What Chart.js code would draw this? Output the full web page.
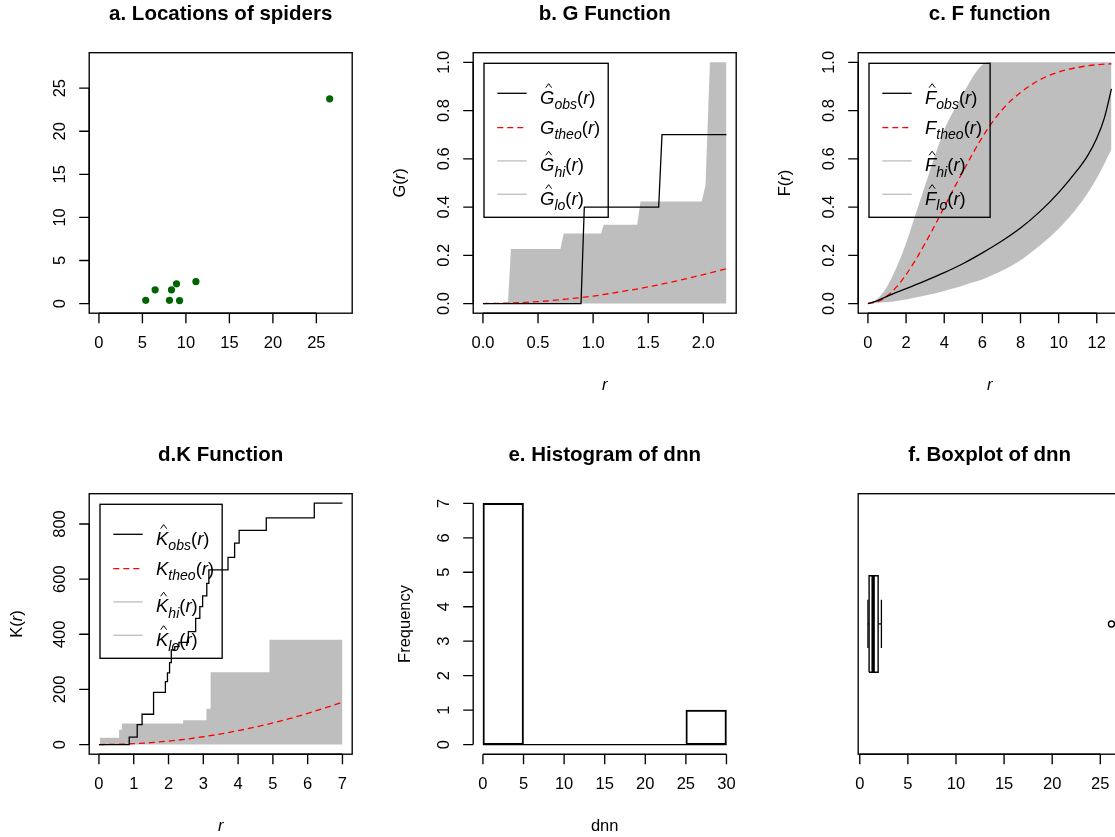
<!DOCTYPE html>
<html>
<head>
<meta charset="utf-8">
<title>Spider point pattern summaries</title>
<script src="https://cdn.jsdelivr.net/npm/chart.js@4.4.1/dist/chart.umd.min.js"></script>
<style>
  html, body { margin:0; padding:0; background:#fff; width:1115px; height:837px; overflow:hidden; }
  canvas { position:absolute; }
</style>
</head>
<body>
<canvas id="cA" width="385" height="442" style="left:0px;top:0px"></canvas>
<canvas id="cB" width="385" height="442" style="left:384.33px;top:0px"></canvas>
<canvas id="cC" width="385" height="442" style="left:768.67px;top:0px"></canvas>
<canvas id="cD" width="385" height="442" style="left:0px;top:441.33px"></canvas>
<canvas id="cE" width="385" height="442" style="left:384.33px;top:441.33px"></canvas>
<canvas id="cF" width="385" height="442" style="left:768.67px;top:441.33px"></canvas>
<script>
// ---- a. spider locations ----
const spiderX = [5.38, 6.46, 8.11, 8.34, 8.92, 9.27, 11.15, 26.53];
const spiderY = [0.38, 1.59, 0.38, 1.59, 2.29, 0.35, 2.55, 23.76];

// ---- b. nearest-neighbour distribution G(r) ----
const gObsR  = [0, 0.89, 0.92, 1.595, 1.625, 2.21];
const gObsV  = [0, 0, 0.40, 0.40, 0.70, 0.70];
const gTheoR = [0, 0.25, 0.5, 0.75, 1, 1.25, 1.5, 1.75, 2, 2.21];
const gTheoV = [0, 0.002, 0.008, 0.018, 0.031, 0.049, 0.069, 0.093, 0.120, 0.144];
const gHiR   = [0, 0.227, 0.254, 0.703, 0.733, 1.072, 1.096, 1.40, 1.43, 1.985, 2.02, 2.06, 2.21];
const gHiV   = [0, 0, 0.226, 0.226, 0.290, 0.290, 0.327, 0.327, 0.423, 0.423, 0.49, 1.0, 1.0];

// ---- c. empty-space function F(r) ----
const fObsR  = [0, 0.5, 1, 2, 3, 4, 5, 6, 7, 8, 9, 10, 11, 11.5, 12, 12.4, 12.77];
const fObsV  = [0, 0.012, 0.03, 0.062, 0.094, 0.128, 0.166, 0.21, 0.258, 0.313, 0.38, 0.46, 0.555, 0.61, 0.685, 0.77, 0.89];
const fTheoR = [0, 0.5, 1, 1.5, 2, 2.5, 3, 3.5, 4, 4.5, 5, 6, 7, 8, 9, 10, 11, 12, 12.77];
const fTheoV = [0, 0.008, 0.031, 0.069, 0.12, 0.181, 0.25, 0.323, 0.40, 0.476, 0.55, 0.69, 0.80, 0.875, 0.927, 0.96, 0.979, 0.99, 0.994];
const fEnvR  = [0, 0.5, 1, 1.5, 2, 2.5, 3, 3.5, 4, 4.5, 5, 5.5, 6, 6.5, 7, 8, 9, 10, 11, 12, 12.77];
const fHiV   = [0, 0.02, 0.07, 0.15, 0.25, 0.37, 0.49, 0.61, 0.72, 0.80, 0.87, 0.94, 0.99, 1, 1, 1, 1, 1, 1, 1, 1];
const fLoV   = [0, 0.003, 0.006, 0.011, 0.017, 0.025, 0.033, 0.042, 0.052, 0.063, 0.075, 0.088, 0.10, 0.117, 0.135, 0.18, 0.24, 0.31, 0.40, 0.52, 0.64];

// ---- d. Ripley's K(r) ----
const kObsR  = [0, 0.87, 1.10, 1.24, 1.57, 1.91, 1.97, 2.03, 2.08, 2.18, 2.30, 2.57, 2.78, 2.90, 2.98, 3.10, 3.16, 3.71, 3.90, 4.03, 4.81, 6.19, 7.0];
const kObsV  = [0, 27, 72, 110, 189, 228, 260, 297, 343, 355, 371, 410, 458, 500, 539, 585, 634, 679, 731, 777, 822, 876, 876];
const kTheoR = [0, 0.5, 1, 1.5, 2, 2.5, 3, 3.5, 4, 4.5, 5, 5.5, 6, 6.5, 7];
const kTheoV = [0, 0.8, 3.1, 7.1, 12.6, 19.6, 28.3, 38.5, 50.3, 63.6, 78.5, 95.0, 113.1, 132.7, 153.9];
const kHiR   = [0, 0.03, 0.58, 0.66, 2.42, 3.09, 3.21, 4.90, 7.0];
const kHiV   = [0, 25, 54, 76, 88, 130, 262, 380, 380];

// ---- e. histogram of nearest-neighbour distances ----
const dnnBreaks = [0, 5, 10, 15, 20, 25, 30];
const dnnCounts = [7, 0, 0, 0, 0, 1];

// ---- f. boxplot of nearest-neighbour distances ----
const dnnFive = [0.85, 0.97, 1.39, 1.91, 2.25];   // lower whisker, Q1, median, Q3, upper whisker
const dnnOutliers = [26.16];

// ---- tick marks ----
const ticksA = [0, 5, 10, 15, 20, 25];
const ticksGx = [0, 0.5, 1, 1.5, 2];
const ticksUnit = [0, 0.2, 0.4, 0.6, 0.8, 1];
const ticksFx = [0, 2, 4, 6, 8, 10, 12];
const ticksKx = [0, 1, 2, 3, 4, 5, 6, 7];
const ticksKy = [0, 200, 400, 600, 800];
const ticksHx = [0, 5, 10, 15, 20, 25, 30];
const ticksHy = [0, 1, 2, 3, 4, 5, 6, 7];
const ticksBx = [0, 5, 10, 15, 20, 25];

const FAM = '"Liberation Sans", Arial, Helvetica, sans-serif';
const GREY = '#BEBEBE';
const TICK = 10;
const FRAME_LW = 1.35;

const pts = (xs, ys) => xs.map((x, i) => ({ x, y: ys[i] }));

function partFont(p, S) {
  const size = p.sub ? S * 0.76 : S;
  return (p.it ? 'italic ' : '') + size.toFixed(2) + 'px ' + FAM;
}
function mathWidth(ctx, parts, S) {
  let w = 0;
  for (const p of parts) { ctx.font = partFont(p, S); w += ctx.measureText(p.t).width; }
  return w;
}
function drawMath(ctx, parts, x, base, S) {
  let cx = x;
  ctx.textAlign = 'left';
  ctx.textBaseline = 'alphabetic';
  for (const p of parts) {
    ctx.font = partFont(p, S);
    const w = ctx.measureText(p.t).width;
    ctx.fillText(p.t, cx, base + (p.sub ? S * 0.3 : 0));
    if (p.hat) {
      const hx = cx + w * 0.5 + S * 0.08, ht = base - S * 1.08;
      ctx.beginPath();
      ctx.moveTo(hx - S * 0.16, ht + S * 0.22);
      ctx.lineTo(hx, ht);
      ctx.lineTo(hx + S * 0.16, ht + S * 0.22);
      ctx.lineWidth = 1;
      ctx.setLineDash([]);
      ctx.stroke();
    }
    cx += w;
  }
}
const fvLabel = (L, sub, hat) => [
  { t: L, it: true, hat }, { t: sub, it: true, sub: true },
  { t: '(', it: false }, { t: 'r', it: true }, { t: ')', it: false }
];
const axisLabel = L => [{ t: L, it: false }, { t: '(', it: false }, { t: 'r', it: true }, { t: ')', it: false }];

function fvLegend(L) {
  return [
    { parts: fvLabel(L, 'obs', true), color: '#000', dash: [], lw: 1.3 },
    { parts: fvLabel(L, 'theo', false), color: '#FF0000', dash: [6, 4], lw: 1.3 },
    { parts: fvLabel(L, 'hi', true), color: GREY, dash: [], lw: 1.3 },
    { parts: fvLabel(L, 'lo', true), color: GREY, dash: [], lw: 1.3 }
  ];
}

function drawLegend(ctx, a, items) {
  const S = 18.5;
  const L = a.left + 10.8, T = a.top + 10.6, H = 154;
  let tw = 0;
  for (const it of items) tw = Math.max(tw, mathWidth(ctx, it.parts, S));
  const W = 56 + tw + 8;
  ctx.strokeStyle = '#000'; ctx.lineWidth = FRAME_LW; ctx.setLineDash([]);
  ctx.strokeRect(L, T, W, H);
  const dys = [30, 64.3, 97.6, 131];
  items.forEach((it, i) => {
    const y = T + dys[i];
    ctx.beginPath();
    ctx.strokeStyle = it.color; ctx.lineWidth = it.lw; ctx.setLineDash(it.dash);
    ctx.moveTo(L + 13.3, y); ctx.lineTo(L + 42.7, y); ctx.stroke();
    ctx.setLineDash([]);
    ctx.strokeStyle = '#000'; ctx.fillStyle = '#000';
    const hasHat = it.parts.some(p => p.hat);
    drawMath(ctx, it.parts, L + 56, y + S * 0.34 + (hasHat ? 4 : 0), S);
  });
}

// base-graphics style frame: box, axes, tick labels, titles, legend
const rBase = {
  id: 'rBase',
  afterDatasetsDraw(chart, _args, o) {
    if (!o || !o.on) return;
    const ctx = chart.ctx, a = chart.chartArea, xs = chart.scales.x, ys = chart.scales.y;
    ctx.save();
    ctx.fillStyle = '#000'; ctx.strokeStyle = '#000'; ctx.setLineDash([]);
    if (o.legend) drawLegend(ctx, a, o.legend);
    ctx.strokeStyle = '#000'; ctx.fillStyle = '#000'; ctx.lineWidth = FRAME_LW; ctx.setLineDash([]);
    if (o.box) ctx.strokeRect(a.left, a.top, a.right - a.left, a.bottom - a.top);
    const tickFont = '16.5px ' + FAM;
    if (o.xTicks) {
      const px = o.xTicks.map(v => xs.getPixelForValue(v));
      ctx.beginPath();
      ctx.moveTo(px[0], a.bottom); ctx.lineTo(px[px.length - 1], a.bottom);
      px.forEach(p => { ctx.moveTo(p, a.bottom); ctx.lineTo(p, a.bottom + TICK); });
      ctx.stroke();
      ctx.font = tickFont; ctx.textAlign = 'center'; ctx.textBaseline = 'middle';
      o.xTicks.forEach((v, i) => ctx.fillText(v.toFixed(o.xDec || 0), px[i], a.bottom + 30.5));
    }
    if (o.yTicks) {
      const py = o.yTicks.map(v => ys.getPixelForValue(v));
      ctx.beginPath();
      ctx.moveTo(a.left, py[0]); ctx.lineTo(a.left, py[py.length - 1]);
      py.forEach(p => { ctx.moveTo(a.left, p); ctx.lineTo(a.left - TICK, p); });
      ctx.stroke();
      ctx.font = tickFont; ctx.textAlign = 'center'; ctx.textBaseline = 'middle';
      o.yTicks.forEach((v, i) => {
        ctx.save();
        ctx.translate(a.left - 28.6, py[i]);
        ctx.rotate(-Math.PI / 2);
        ctx.fillText(v.toFixed(o.yDec || 0), 0, 0);
        ctx.restore();
      });
    }
    const cx = (a.left + a.right) / 2, cy = (a.top + a.bottom) / 2;
    if (o.title) {
      ctx.font = 'bold 20.5px ' + FAM; ctx.textAlign = 'center'; ctx.textBaseline = 'middle';
      ctx.fillText(o.title, cx, 14);
    }
    if (o.xlab) {
      const S = 16.5, w = mathWidth(ctx, o.xlab, S);
      drawMath(ctx, o.xlab, cx - w / 2, a.bottom + 70.7 + S * 0.36, S);
    }
    if (o.ylab) {
      const S = 16.5, w = mathWidth(ctx, o.ylab, S);
      ctx.save();
      ctx.translate(o.ylabX || 15.5, cy);
      ctx.rotate(-Math.PI / 2);
      drawMath(ctx, o.ylab, -w / 2, S * 0.36, S);
      ctx.restore();
    }
    ctx.restore();
  }
};
Chart.register(rBase);

function opts(xr, yr, frame) {
  return {
    responsive: false, animation: false, events: [],
    layout: { padding: { left: 89.2, top: 52.7, right: 32.8, bottom: 128.8 } },
    plugins: { legend: { display: false }, tooltip: { enabled: false }, rBase: Object.assign({ on: true }, frame) },
    scales: {
      x: { type: 'linear', display: false, min: xr[0], max: xr[1], offset: false },
      y: { type: 'linear', display: false, min: yr[0], max: yr[1] }
    }
  };
}
// axis limits: data range widened by 4% on each side
const rlim = (lo, hi) => [lo - 0.04 * (hi - lo), hi + 0.04 * (hi - lo)];
const lineDs = (xs, ys, extra) => Object.assign({
  data: pts(xs, ys), showLine: true, pointRadius: 0, borderWidth: 1.3,
  borderColor: '#000', backgroundColor: 'transparent', fill: false, tension: 0
}, extra);

// a. locations
new Chart(document.getElementById('cA'), {
  type: 'scatter',
  data: { datasets: [{
    data: pts(spiderX, spiderY), pointRadius: 3.6, pointBorderWidth: 0,
    backgroundColor: '#006400', borderColor: '#006400'
  }] },
  options: opts(rlim(0, 28), rlim(0, 28), {
    title: 'a. Locations of spiders', box: true, xTicks: ticksA, yTicks: ticksA
  })
});

// b. G function
new Chart(document.getElementById('cB'), {
  type: 'scatter',
  data: { datasets: [
    lineDs(gObsR, gObsV),
    lineDs(gTheoR, gTheoV, { borderColor: '#FF0000', borderDash: [6, 4], cubicInterpolationMode: 'monotone' }),
    lineDs(gHiR, gHiV, { borderWidth: 0, borderColor: GREY, backgroundColor: GREY, fill: 'origin' })
  ] },
  options: opts(rlim(0, 2.21), rlim(0, 1), {
    title: 'b. G Function', box: true, xTicks: ticksGx, xDec: 1, yTicks: ticksUnit, yDec: 1,
    xlab: [{ t: 'r', it: true }], ylab: axisLabel('G'), legend: fvLegend('G')
  })
});

// c. F function
new Chart(document.getElementById('cC'), {
  type: 'scatter',
  data: { datasets: [
    lineDs(fObsR, fObsV, { cubicInterpolationMode: 'monotone' }),
    lineDs(fTheoR, fTheoV, { borderColor: '#FF0000', borderDash: [6, 4], cubicInterpolationMode: 'monotone' }),
    lineDs(fEnvR, fHiV, { borderWidth: 0, borderColor: GREY, backgroundColor: GREY, fill: '+1', cubicInterpolationMode: 'monotone' }),
    lineDs(fEnvR, fLoV, { borderWidth: 0, borderColor: GREY, cubicInterpolationMode: 'monotone' })
  ] },
  options: opts(rlim(0, 12.77), rlim(0, 1), {
    title: 'c. F function', box: true, xTicks: ticksFx, yTicks: ticksUnit, yDec: 1,
    xlab: [{ t: 'r', it: true }], ylab: axisLabel('F'), legend: fvLegend('F')
  })
});

// d. K function
new Chart(document.getElementById('cD'), {
  type: 'scatter',
  data: { datasets: [
    lineDs(kObsR, kObsV, { stepped: 'before' }),
    lineDs(kTheoR, kTheoV, { borderColor: '#FF0000', borderDash: [6, 4], cubicInterpolationMode: 'monotone' }),
    lineDs(kHiR, kHiV, { borderWidth: 0, borderColor: GREY, backgroundColor: GREY, fill: 'origin', stepped: 'before' })
  ] },
  options: opts(rlim(0, 7), rlim(0, 875), {
    title: 'd.K Function', box: true, xTicks: ticksKx, yTicks: ticksKy,
    xlab: [{ t: 'r', it: true }], ylab: axisLabel('K'), legend: fvLegend('K'), ylabX: 16.5
  })
});

// e. histogram
const binMid = dnnCounts.map((_, i) => (dnnBreaks[i] + dnnBreaks[i + 1]) / 2);
new Chart(document.getElementById('cE'), {
  type: 'bar',
  data: { datasets: [
    { type: 'bar', data: pts(binMid, dnnCounts), backgroundColor: 'transparent', borderColor: '#000',
      borderWidth: 1.3, borderSkipped: false, barPercentage: 1, categoryPercentage: 1 },
    { type: 'line', data: pts([dnnBreaks[0], dnnBreaks[dnnBreaks.length - 1]], [0, 0]),
      borderColor: '#000', borderWidth: 1.2, pointRadius: 0, fill: false }
  ] },
  options: opts(rlim(0, 30), rlim(0, 7), {
    title: 'e. Histogram of dnn', box: false, xTicks: ticksHx, yTicks: ticksHy,
    xlab: [{ t: 'dnn', it: false }], ylab: [{ t: 'Frequency', it: false }], ylabX: 20
  })
});

// f. horizontal boxplot
const [wLo, q1, med, q3, wHi] = dnnFive;
new Chart(document.getElementById('cF'), {
  type: 'scatter',
  data: { datasets: [
    lineDs([q1, q3, q3, q1, q1], [0.8, 0.8, 1.2, 1.2, 0.8], { borderWidth: 1.4 }),
    lineDs([med, med], [0.8, 1.2], { borderWidth: 3.4 }),
    lineDs([wLo, q1], [1, 1], { borderWidth: 1.3, borderDash: [4, 3] }),
    lineDs([q3, wHi], [1, 1], { borderWidth: 1.3, borderDash: [4, 3] }),
    lineDs([wLo, wLo], [0.9, 1.1], { borderWidth: 1.3 }),
    lineDs([wHi, wHi], [0.9, 1.1], { borderWidth: 1.3 }),
    { data: dnnOutliers.map(x => ({ x, y: 1 })), pointRadius: 3, pointBorderWidth: 1.4,
      borderColor: '#000', backgroundColor: 'transparent' }
  ] },
  options: opts(rlim(wLo, dnnOutliers[0]), [0.46, 1.54], {
    title: 'f. Boxplot of dnn', box: true, xTicks: ticksBx
  })
});
</script>
</body>
</html>
